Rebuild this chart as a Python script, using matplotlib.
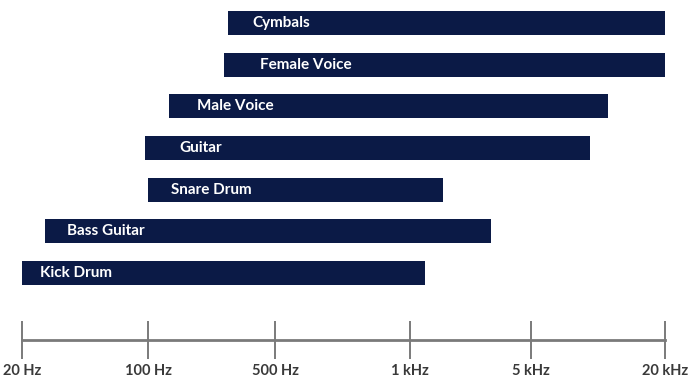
import numpy as np
import matplotlib
matplotlib.use("Agg")
import matplotlib.pyplot as plt

# frequency ranges (Hz), listed bottom to top
instruments = ["Kick Drum", "Bass Guitar", "Snare Drum", "Guitar",
               "Male Voice", "Female Voice", "Cymbals"]
low_hz = [20, 27, 100, 96, 130, 260, 275]
high_hz = [1210, 2920, 1540, 9200, 11100, 20000, 20000]

tick_hz = [20, 100, 500, 1000, 5000, 20000]
tick_labels = ["20 Hz", "100 Hz", "500 Hz", "1 kHz", "5 kHz", "20 kHz"]

# where each tick sits along the axis (the scale is not a true log scale)
tick_pos = [0, 0.98, 1.97, 3.02, 3.96, 5.0]
label_pad = [18, 22, 23, 35, 28, 36, 24]  # px from bar start to its label

bar_color = "#0b1a46"
axis_color = "#7a7a7a"


def fwd(f):
    f = np.clip(np.asarray(f, dtype=float), 1e-3, None)
    return np.interp(np.log10(f), np.log10(tick_hz), tick_pos)


def inv(p):
    return 10 ** np.interp(p, tick_pos, np.log10(tick_hz))


plt.rcParams["font.family"] = ["Lato", "DejaVu Sans"]

fig = plt.figure(figsize=(6.95, 3.78), dpi=100)
ax = fig.add_axes([22 / 695, 38 / 378, (665 - 22) / 695, 340 / 378])
ax.set_xscale("function", functions=(fwd, inv))

y = np.arange(len(instruments))
left = np.array(low_hz, dtype=float)
width = np.array(high_hz, dtype=float) - left
ax.barh(y, width, left=left, height=0.576, color=bar_color, zorder=2)

for yi, name, lo, pad in zip(y, instruments, low_hz, label_pad):
    ax.annotate(name, (lo, yi), xytext=(pad * 0.72, 0),
                textcoords="offset points", ha="left", va="center",
                color="white", fontsize=11, fontweight="bold", zorder=3)

ax.set_xlim(20, 20000)
ax.set_ylim(-1.61, 6.55)

for s in ["top", "left", "right"]:
    ax.spines[s].set_visible(False)
ax.spines["bottom"].set_color(axis_color)
ax.spines["bottom"].set_linewidth(2)

ax.set_yticks([])
ax.xaxis.set_minor_locator(matplotlib.ticker.NullLocator())
ax.set_xticks(tick_hz)
ax.set_xticklabels(tick_labels)
ax.tick_params(axis="x", direction="inout", length=28, width=1.4,
               color=axis_color, pad=3, labelsize=10.5, labelcolor="#3a3a3a")
for lbl in ax.get_xticklabels():
    lbl.set_fontweight("bold")
for t in ax.xaxis.get_major_ticks():
    t.tick1line.set_clip_on(False)

fig.savefig("out.png", dpi=100)
